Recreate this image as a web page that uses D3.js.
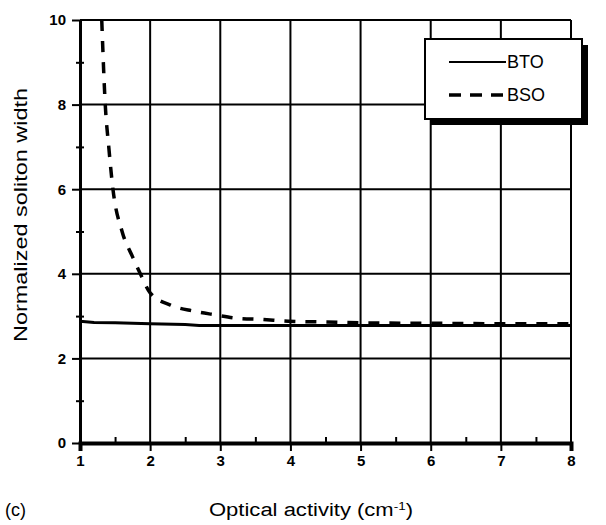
<!DOCTYPE html>
<html><head><meta charset="utf-8">
<script src="https://cdn.jsdelivr.net/npm/d3@7"></script>
<style>body{margin:0;background:#fff;} svg{display:block;}</style>
</head><body>
<svg id="c" width="606" height="525"></svg>
<script>
const xTicks = [1,2,3,4,5,6,7,8];
const yTicks = [0,2,4,6,8,10];
const xMinor = [1.5,2.5,3.5,4.5,5.5,6.5,7.5];
const yMinor = [1,3,5,7,9];
const btoX = [1.0,1.2,1.5,2.0,2.5,2.7,3.0,4.0,5.0,6.0,7.0,8.0];
const btoY = [2.88,2.85,2.84,2.82,2.80,2.78,2.78,2.78,2.78,2.78,2.78,2.78];
const bsoX = [1.31,1.36,1.41,1.47,1.60,1.75,1.86,2.0,2.29,2.61,2.93,3.24,3.6,3.97,4.5,5.0,6.0,7.0,8.0];
const bsoY = [10,8.0,7.0,6.0,5.0,4.4,4.0,3.55,3.26,3.12,3.03,2.95,2.92,2.88,2.86,2.84,2.83,2.82,2.82];
const legendLabels = ["BTO","BSO"];

const svg = d3.select("#c");
const x = d3.scaleLinear().domain([1,8]).range([80,571]);
const y = d3.scaleLinear().domain([0,10]).range([443,20]);
const F = "'Liberation Sans', Arial, sans-serif";

// gridlines
svg.append("g").selectAll("line").data(xTicks.slice(1)).join("line")
  .attr("x1",d=>x(d)).attr("x2",d=>x(d)).attr("y1",y(0)).attr("y2",y(10))
  .attr("stroke","#000").attr("stroke-width",2);
svg.append("g").selectAll("line").data(yTicks.slice(1)).join("line")
  .attr("x1",x(1)).attr("x2",x(8)).attr("y1",d=>y(d)).attr("y2",d=>y(d))
  .attr("stroke","#000").attr("stroke-width",2);

// axes
const xAxis = d3.axisBottom(x).tickValues(xTicks).tickFormat(d3.format("d")).tickSize(8).tickPadding(4);
const gx = svg.append("g").attr("transform",`translate(0,${y(0)})`).call(xAxis);
gx.select(".domain").attr("stroke-width",4);
gx.selectAll(".tick line").attr("stroke-width",2);
gx.selectAll("text").attr("font-family",F).attr("font-weight","bold").attr("font-size",15).attr("fill","#000");
const xMin = d3.axisBottom(x).tickValues(xMinor).tickFormat("").tickSizeInner(-6).tickSizeOuter(0);
const gxm = svg.append("g").attr("transform",`translate(0,${y(0)})`).call(xMin);
gxm.select(".domain").remove();
gxm.selectAll(".tick line").attr("stroke-width",2);

const yAxis = d3.axisLeft(y).tickValues(yTicks).tickFormat(d3.format("d")).tickSize(8).tickPadding(6).tickSizeOuter(0);
const gy = svg.append("g").attr("transform",`translate(${x(1)},0)`).call(yAxis);
gy.select(".domain").attr("stroke-width",3);
gy.selectAll(".tick line").attr("stroke-width",2);
gy.selectAll("text").attr("font-family",F).attr("font-weight","bold").attr("font-size",15).attr("fill","#000");
const yMin = d3.axisLeft(y).tickValues(yMinor).tickFormat("").tickSize(4).tickSizeOuter(0);
const gym = svg.append("g").attr("transform",`translate(${x(1)},0)`).call(yMin);
gym.select(".domain").remove();
gym.selectAll(".tick line").attr("x2",4).attr("x1",-4).attr("stroke-width",2);

// lines
const line = d3.line().x(d=>x(d[0])).y(d=>y(d[1]));
svg.append("path").datum(btoX.map((v,i)=>[v,btoY[i]])).attr("d",line)
  .attr("fill","none").attr("stroke","#000").attr("stroke-width",3);
const bsoLine = d3.line().curve(d3.curveMonotoneX).x(d=>x(d[0])).y(d=>y(d[1]));
svg.append("path").datum(bsoX.map((v,i)=>[v,bsoY[i]])).attr("d",bsoLine)
  .attr("fill","none").attr("stroke","#000").attr("stroke-width",3.5).attr("stroke-dasharray","11,10");

// legend
const lg = svg.append("g");
lg.append("rect").attr("x",431).attr("y",45).attr("width",157).attr("height",80).attr("fill","#000");
lg.append("rect").attr("x",425).attr("y",39).attr("width",157).attr("height",80).attr("fill","#fff").attr("stroke","#000").attr("stroke-width",2);
lg.append("line").attr("x1",449).attr("x2",506).attr("y1",62).attr("y2",62).attr("stroke","#000").attr("stroke-width",2);
lg.append("line").attr("x1",449).attr("x2",506).attr("y1",95).attr("y2",95).attr("stroke","#000").attr("stroke-width",3.5).attr("stroke-dasharray","12,9");
lg.selectAll("text").data(legendLabels).join("text")
  .attr("x",507).attr("y",(d,i)=>[68,101][i]).text(d=>d)
  .attr("font-family",F).attr("font-size",18).attr("fill","#000");

// titles
svg.append("text").attr("x",311).attr("y",516).attr("text-anchor","middle")
  .attr("font-family",F).attr("font-size",18).attr("fill","#000")
  .attr("textLength",204).attr("lengthAdjust","spacingAndGlyphs")
  .html('Optical activity (cm<tspan dy="-6" font-size="11">-1</tspan><tspan dy="6">)</tspan>');
svg.append("text").attr("transform","translate(27,215) rotate(-90)").attr("text-anchor","middle")
  .attr("font-family",F).attr("font-size",18).attr("fill","#000")
  .attr("textLength",254).attr("lengthAdjust","spacingAndGlyphs")
  .text("Normalized soliton width");
svg.append("text").attr("x",5).attr("y",516).attr("font-family",F).attr("font-size",18).attr("fill","#000").text("(c)");
</script>
</body></html>
